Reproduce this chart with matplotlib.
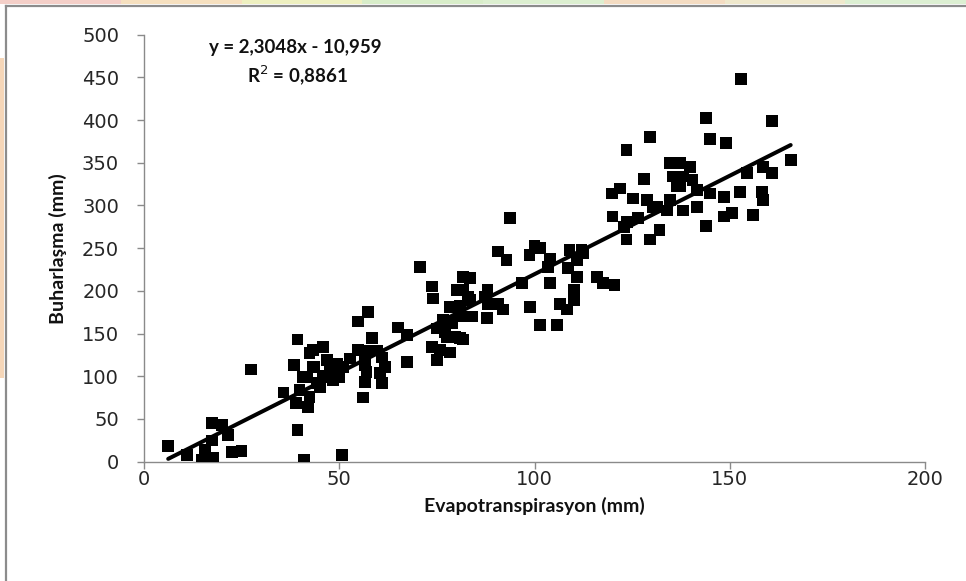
import matplotlib
matplotlib.use("Agg")
import matplotlib.pyplot as plt
from matplotlib.patches import Rectangle
from matplotlib.lines import Line2D
import numpy as np

# ---- data ----
et_mm = [
    6.2, 11, 14.8, 17.7, 15.6, 17.4, 17.4, 20, 21.5, 22.5, 25, 27.4,
    35.7, 38.4, 39.3, 39.3, 41, 50.7,
    42.4, 45.8, 43.7, 40.6, 39.8, 39, 42, 45, 46.8, 49.4, 50, 47.5, 42.4,
    43.3, 46.8, 43.3, 41.7, 45.8, 48.4, 44.3, 51, 49.4,
    52.7, 54.8, 57.3, 56.6, 56.6, 56.6, 57, 56.6, 56, 58.4, 54.8, 61, 61.7,
    60.4, 61, 65, 67.3, 67.3, 59.6,
    70.7, 73.7, 74, 81.7, 83.5, 80, 81.7, 83, 78.3, 84, 76.5, 75, 77.6,
    79.6, 81, 73.7, 75.8, 78.3, 75, 81, 83.5, 88, 87.3, 88, 92, 87.8,
    90.6, 81, 79, 77, 81.7,
    93.7, 90.6, 92.8, 100, 101.5, 98.7, 104, 103.4, 104, 96.8, 109, 112,
    110.8, 108.5, 110.8, 110.2, 110.2, 108.3, 106.5, 98.8, 101.4, 105.7,
    116, 117.5, 120.5, 112.4, 123.6,
    119.8, 121.9, 125.2, 120, 123.7, 123.6, 123, 126.5, 128, 128.8, 129.5,
    129.5, 131.3, 132, 134.7, 130.3, 133.9, 138,
    134.7, 137.2, 139.8, 135.4, 138, 140.5, 137.2, 141.6, 136.5,
    141.6, 144, 145, 148.5, 148.5, 150.5, 152.6, 156, 158.2, 158.5, 154.4,
    158.5, 160.8, 165.6, 152.9, 144, 160.8, 145, 149,
]
evap_mm = [
    18, 8, 2, 4, 14, 25, 45, 43, 31, 11, 12.5, 108,
    81, 113, 143, 37, 2, 8,
    127, 134, 111, 99, 84, 69, 64, 87, 99, 115, 99, 111, 76,
    131, 119, 111, 99, 101, 96, 92, 111, 104,
    121, 164, 175, 130, 119, 113, 105, 93, 75, 145, 131, 122, 111,
    104, 92, 157, 148, 117, 130,
    228, 205, 191, 216, 215, 201, 201, 193, 181, 170, 166, 156, 146,
    146, 145, 134, 131, 128, 119, 183, 189, 201, 193, 185, 178, 168,
    185, 170, 162, 152, 143,
    285, 246, 236, 253, 250, 242, 238, 228, 209, 209, 248, 248,
    236, 227, 216, 201, 189, 178, 185, 181, 160, 160,
    216, 209, 207, 244, 365,
    314, 320, 308, 287, 281, 260, 275, 285, 331, 306, 380,
    260, 298, 271, 306, 298, 294, 294,
    350, 350, 345, 334, 334, 330, 322, 318, 322,
    298, 276, 314, 310, 287, 291, 316, 289, 316, 306, 338,
    345, 338, 353, 448, 402, 399, 378, 373,
]
slope = 2.3048
intercept = -10.959
r_squared = "0,8861"
x_ticks = [0, 50, 100, 150, 200]
y_ticks = [0, 50, 100, 150, 200, 250, 300, 350, 400, 450, 500]

W, H = 966, 581
DPI = 100
fig = plt.figure(figsize=(W / DPI, H / DPI), dpi=DPI)
fig.patch.set_facecolor("white")

# faint coloured watermark strips around the chart frame
strip_cols = ["#f4cfc8", "#f6e0bf", "#eef0c0", "#d8edc9", "#dcefd0", "#f4dcc2", "#efe8cc", "#dcefd2"]
n = len(strip_cols)
for i, c in enumerate(strip_cols):
    fig.patches.append(Rectangle((i / n, 1 - 4 / H), 1 / n, 4 / H, transform=fig.transFigure,
                                 facecolor=c, edgecolor="none", zorder=0))
fig.patches.append(Rectangle((0, 0.35), 4 / W, 0.55, transform=fig.transFigure,
                             facecolor="#f5d6b8", edgecolor="none", zorder=0))
# chart frame (grey border at left and top)
fig.lines.append(Line2D([5.5 / W, 5.5 / W], [0, 1 - 5.5 / H], transform=fig.transFigure,
                        color="#8c8c8c", lw=1.6))
fig.lines.append(Line2D([5.5 / W, 1], [1 - 5.5 / H, 1 - 5.5 / H], transform=fig.transFigure,
                        color="#8c8c8c", lw=1.6))

left, right = 144 / W, 925 / W
bottom, top = (H - 461.7) / H, (H - 34.6) / H
ax = fig.add_axes([left, bottom, right - left, top - bottom])
ax.set_facecolor("white")

ax.scatter(et_mm, evap_mm, marker="s", s=8.4 ** 2, color="black", edgecolors="none", zorder=3)

xl = np.array([min(et_mm), max(et_mm)])
ax.plot(xl, slope * xl + intercept, color="black", lw=2.9, solid_capstyle="round", zorder=4)

ax.set_xlim(0, 200)
ax.set_ylim(0, 500)
ax.set_xticks(x_ticks)
ax.set_yticks(y_ticks)
ax.set_xticklabels([str(t) for t in x_ticks])
ax.set_yticklabels([str(t) for t in y_ticks])

for s in ["top", "right"]:
    ax.spines[s].set_visible(False)
for s in ["left", "bottom"]:
    ax.spines[s].set_color("#8a8a8a")
    ax.spines[s].set_linewidth(1.0)

ax.tick_params(axis="both", direction="out", length=5, width=1.0, color="#8a8a8a",
               labelsize=14, labelcolor="#262626")
ax.tick_params(axis="y", pad=13)
ax.tick_params(axis="x", pad=1)
for lab in ax.get_xticklabels() + ax.get_yticklabels():
    lab.set_family("DejaVu Sans")

lab_font = dict(family="Lato", weight="bold", size=14, color="#111111")
ax.set_xlabel("Evapotranspirasyon (mm)", labelpad=6, **lab_font)
ax.set_ylabel("Buharlaşma (mm)", labelpad=11, **lab_font)

eq_font = dict(family="Lato", weight="bold", size=13.5, color="#111111")
fig.text(295 / W, 1 - 47 / H, "y = 2,3048x - 10,959", ha="center", va="center", **eq_font)
fig.text(297 / W, 1 - 75 / H, "R$^2$ = " + r_squared, ha="center", va="center", **eq_font)

fig.savefig("out.png", dpi=DPI, facecolor=fig.get_facecolor())
